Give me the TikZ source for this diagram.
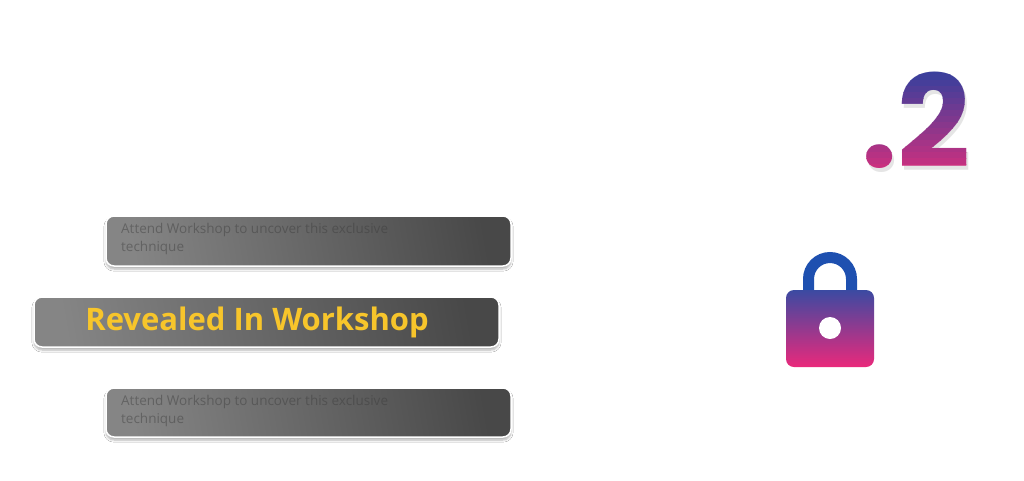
\documentclass[tikz,border=0pt]{standalone}
\usepackage{fontspec}
\setmainfont{Open Sans}
\newfontfamily\popfont{Poppins}
\usetikzlibrary{shadows.blur}
\definecolor{boxlight}{HTML}{858585}
\definecolor{boxdark}{HTML}{484848}
\definecolor{goldtext}{HTML}{F7C52B}
\definecolor{blurtext}{HTML}{3A3A3A}
\definecolor{gradtop}{HTML}{3A3F9C}
\definecolor{gradbot}{HTML}{C9307F}
\definecolor{locktop}{HTML}{3B4AA2}
\definecolor{lockbot}{HTML}{EA297B}
\definecolor{shackle}{HTML}{1E50B0}
\tikzset{
  panel/.style={rounded corners=8pt,draw=white,line width=1.5pt,left color=boxlight,right color=boxdark,shading angle=100,
    blur shadow={shadow xshift=0pt,shadow yshift=-3pt,shadow blur steps=6,shadow opacity=30}},
  blurtxt/.style={anchor=north west,align=left,inner sep=0pt,text=blurtext,opacity=0.45,font=\fontsize{13.5}{18}\selectfont},
  goldlbl/.style={text=goldtext,font=\bfseries\fontsize{31}{32}\selectfont,inner sep=0pt},
  bigtwo/.style={inner sep=0pt,font=\popfont\bfseries\fontsize{128}{128}\selectfont}
}
\begin{document}
\begin{tikzpicture}[x=1pt,y=-1pt]
\useasboundingbox[fill=white] (0,0) rectangle (1024,480);
% panels
\path[panel] (106,216) rectangle (511,266);
\node[blurtxt] (t1) at (121,223) {Attend Workshop to uncover this exclusive\\technique};
\path[panel] (34,297) rectangle (499,347);
\node[goldlbl] (rev) at (257,322) {Revealed In Workshop};
\path[panel] (106,388) rectangle (511,437);
\node[blurtxt] (t2) at (121,395) {Attend Workshop to uncover this exclusive\\technique};
% .2 soft shadow
\node[bigtwo,text=black,opacity=0.1] (twoshadow) at (918,124) {.2};
% .2 gradient via horizontal strips
\coordinate (twopos) at (916,120);
\foreach \i in {0,...,17} {
  \pgfmathsetmacro{\ya}{68+\i*6}
  \pgfmathsetmacro{\yb}{\ya+6.3}
  \pgfmathsetmacro{\mix}{max(0,min(100,100-(\ya+3-75)/92*100))}
  \begin{scope}
    \clip (850,\ya) rectangle (990,\yb);
    \node[bigtwo,text=gradtop!\mix!gradbot] at (twopos) {.2};
  \end{scope}
}
% lock
\draw[shackle,line width=11pt] (808.5,292) -- (808.5,279) arc[start angle=180,end angle=360,radius=21.5] -- (851.5,292);
\shade[rounded corners=8pt,top color=locktop,bottom color=lockbot] (786,290) rectangle (874,367);
\fill[white] (830,328) circle[radius=11];
\end{tikzpicture}
\end{document}
